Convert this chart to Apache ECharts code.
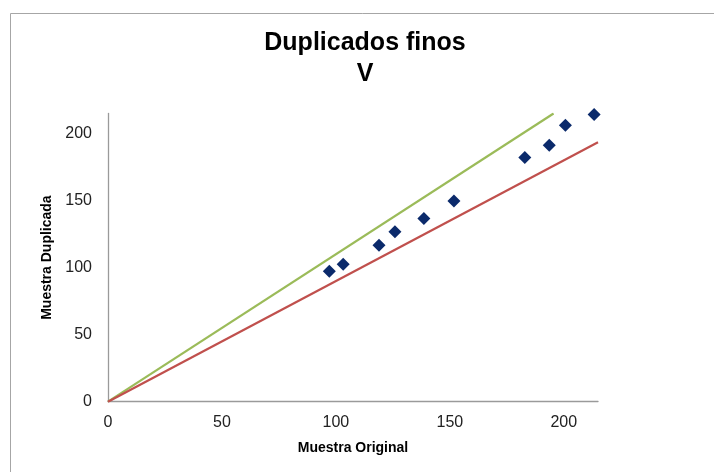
<!DOCTYPE html>
<html><head><meta charset="utf-8">
<script src="https://cdn.jsdelivr.net/npm/echarts@6/dist/echarts.min.js"></script>
<style>html,body{margin:0;padding:0;background:#fff}#c{width:714px;height:472px}</style>
</head><body><div id="c"></div>
<script>
const titleLines = ['Duplicados finos', 'V'];
const xAxisName = 'Muestra Original';
const yAxisName = 'Muestra Duplicada';
const originalX = [97.1, 103.2, 118.9, 125.9, 138.6, 151.8, 182.9, 193.6, 200.7, 213.3];
const duplicateY = [97.4, 102.6, 116.8, 126.7, 136.7, 149.8, 182.1, 191.3, 206.2, 214.2];
const upperLineX = [0, 195.5]; // y = 1.1x, ends at top of plot
const upperLineY = [0, 215];
const lowerLineX = [0, 215];   // y = 0.9x
const lowerLineY = [0, 193.5];
const axisTicks = [0, 50, 100, 150, 200];
const axisMax = 215;

const pairs = (xs, ys) => xs.map((x, i) => [x, ys[i]]);
const fmt = v => axisTicks.indexOf(Math.round(v)) >= 0 && Math.abs(v - Math.round(v)) < 1e-6 ? String(Math.round(v)) : '';

const chart = echarts.init(document.getElementById('c'), null, {renderer: 'canvas'});
const font = '"Liberation Sans", Arial, sans-serif';
chart.setOption({
  backgroundColor: '#fff',
  animation: false,
  textStyle: {fontFamily: font},
  title: {
    text: titleLines.join('\n'),
    left: 365, top: 28, padding: 0, textAlign: 'center',
    textStyle: {fontFamily: font, fontSize: 25, fontWeight: 'bold', color: '#000', lineHeight: 31}
  },
  graphic: [{
    type: 'rect', left: 8, top: 11, silent: true, z: -10,
    shape: {width: 800, height: 600},
    style: {fill: 'none', stroke: '#a6a6a6', lineWidth: 1}
  }],
  grid: {left: 108, right: 116, top: 113.5, bottom: 70.3, containLabel: false},
  xAxis: {
    type: 'value', min: 0, max: axisMax, interval: 50,
    name: xAxisName, nameLocation: 'middle', nameGap: 39,
    nameTextStyle: {fontFamily: font, fontSize: 14, fontWeight: 'bold', color: '#000'},
    axisLine: {show: true, onZero: false, lineStyle: {color: '#9a9a9a', width: 1.3}},
    axisTick: {show: false}, splitLine: {show: false},
    axisLabel: {fontFamily: font, fontSize: 16, color: '#222', margin: 13, formatter: fmt, showMaxLabel: false}
  },
  yAxis: {
    type: 'value', min: 0, max: axisMax, interval: 50,
    name: yAxisName, nameLocation: 'middle', nameGap: 52, nameRotate: 90,
    nameTextStyle: {fontFamily: font, fontSize: 14, fontWeight: 'bold', color: '#000'},
    axisLine: {show: true, onZero: false, lineStyle: {color: '#9a9a9a', width: 1.3}},
    axisTick: {show: false}, splitLine: {show: false},
    axisLabel: {fontFamily: font, fontSize: 16, color: '#222', margin: 16, formatter: fmt, showMaxLabel: false}
  },
  series: [
    {type: 'line', data: pairs(upperLineX, upperLineY), symbol: 'none', lineStyle: {color: '#9bbb59', width: 2.2}, z: 2},
    {type: 'line', data: pairs(lowerLineX, lowerLineY), symbol: 'none', lineStyle: {color: '#c0504d', width: 2.2}, z: 2},
    {type: 'scatter', data: pairs(originalX, duplicateY), symbol: 'diamond', symbolSize: 13,
     itemStyle: {color: '#0b2a6b', opacity: 1}, z: 3}
  ]
});
</script></body></html>
